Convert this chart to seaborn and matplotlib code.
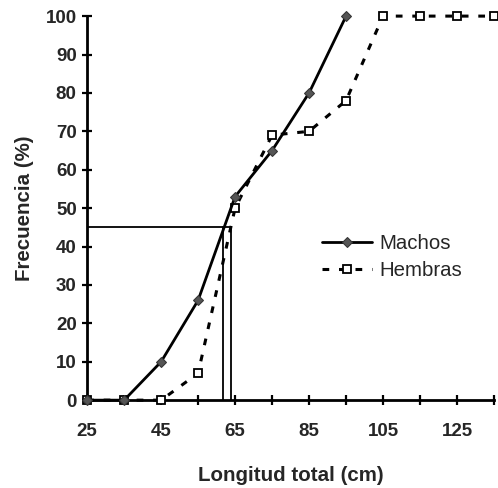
import numpy as np
import pandas as pd
import matplotlib
matplotlib.use('Agg')
import matplotlib.pyplot as plt
import seaborn as sns

# Datos
longitud = [25, 35, 45, 55, 65, 75, 85, 95, 105, 115, 125, 135]
machos = [0, 0, 10, 26, 53, 65, 80, 100, None, None, None, None]
hembras = [0, 0, 0, 7, 50, 69, 70, 78, 100, 100, 100, 100]

# Talla de primera madurez (lineas de referencia)
frecuencia_ref = 45
tallas_ref = [61.7, 64]

sns.set_style("white")
plt.rcParams['font.family'] = ['Liberation Sans', 'DejaVu Sans']

df = pd.DataFrame({'longitud': longitud * 2,
                   'frecuencia': machos + hembras,
                   'sexo': ['Machos'] * len(longitud) + ['Hembras'] * len(longitud)})
df = df.dropna()

fig, ax = plt.subplots(figsize=(4.98, 4.88), dpi=100)
fig.subplots_adjust(left=0.175, right=0.992, bottom=0.18, top=0.967)

sns.lineplot(data=df[df['sexo'] == 'Hembras'], x='longitud', y='frecuencia', ax=ax,
             color='black', linestyle=(0, (2.2, 3.2)), linewidth=2.2, marker='s',
             markersize=6, markerfacecolor='white', markeredgecolor='black',
             markeredgewidth=1.3, label='Hembras', clip_on=False, zorder=3)
sns.lineplot(data=df[df['sexo'] == 'Machos'], x='longitud', y='frecuencia', ax=ax,
             color='black', linewidth=2, marker='D', markersize=5,
             markerfacecolor='#555555', markeredgecolor='#333333',
             label='Machos', clip_on=False, zorder=4)

# Lineas de referencia
ax.plot([25, max(tallas_ref)], [frecuencia_ref, frecuencia_ref], color='black', lw=1.3)
for t in tallas_ref:
    ax.plot([t, t], [0, frecuencia_ref], color='black', lw=1.3)

ax.set_xlim(25, 134.5)
ax.set_ylim(0, 100)
ax.set_xticks(np.arange(25, 135, 20))
ax.set_xticks(np.arange(25, 136, 10), minor=True)
ax.set_yticks(np.arange(0, 101, 10))
ax.tick_params(axis='both', which='both', direction='inout', length=7, width=1.6,
               bottom=True, left=True, color='black', labelsize=13.5)
ax.tick_params(axis='x', pad=13)
ax.tick_params(axis='y', pad=4)
for lab in ax.get_xticklabels() + ax.get_yticklabels():
    lab.set_fontweight('bold')

for s in ['top', 'right']:
    ax.spines[s].set_visible(False)
for s in ['left', 'bottom']:
    ax.spines[s].set_linewidth(2)
    ax.spines[s].set_color('black')

ax.set_xlabel('Longitud total (cm)', fontsize=14.8, fontweight='bold', labelpad=19)
ax.set_ylabel('Frecuencia (%)', fontsize=14.8, fontweight='bold', labelpad=8.5)

handles, labels = ax.get_legend_handles_labels()
order = [labels.index('Machos'), labels.index('Hembras')]
ax.legend([handles[i] for i in order], [labels[i] for i in order],
          loc='upper left', bbox_to_anchor=(0.533, 0.48), frameon=False,
          fontsize=14.7, handlelength=2.45, handletextpad=0.35, labelspacing=0.4)

plt.savefig('out.png', dpi=100)
